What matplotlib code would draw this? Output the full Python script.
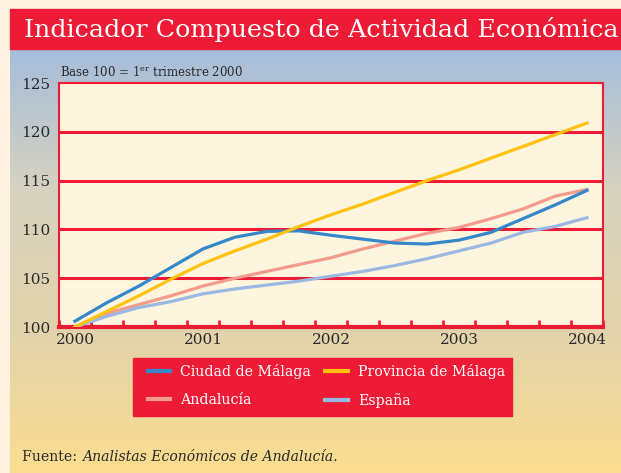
import numpy as np
import matplotlib
matplotlib.use("Agg")
import matplotlib.pyplot as plt
from matplotlib.patches import Rectangle
from matplotlib.colors import LinearSegmentedColormap

# quarterly values, 1st quarter 2000 .. 1st quarter 2004
quarters = np.arange(17)
ciudad = [100.6, 102.5, 104.2, 106.1, 108.0, 109.2, 109.8, 109.85, 109.4, 109.0,
          108.6, 108.5, 108.9, 109.7, 111.1, 112.5, 114.0]
provincia = [100.0, 101.6, 103.2, 104.9, 106.5, 107.8, 109.0, 110.3, 111.5, 112.6,
             113.8, 115.0, 116.1, 117.3, 118.5, 119.7, 120.9]
andalucia = [100.0, 101.4, 102.3, 103.2, 104.2, 105.0, 105.7, 106.4, 107.1, 108.0,
             108.8, 109.6, 110.2, 111.1, 112.1, 113.4, 114.1]
espana = [100.0, 101.1, 102.0, 102.6, 103.4, 103.9, 104.3, 104.7, 105.2, 105.7,
          106.3, 107.0, 107.8, 108.6, 109.7, 110.3, 111.2]

year_labels = ["2000", "2001", "2002", "2003", "2004"]
y_ticks = [100, 105, 110, 115, 120, 125]

RED = "#ED1B35"
TXT = "#2A2A2A"
W, H = 621, 473

plt.rcParams['font.family'] = ['DejaVu Serif']
plt.rcParams['mathtext.fontset'] = 'dejavuserif'

fig = plt.figure(figsize=(W / 100, H / 100), dpi=100)
fig.patch.set_facecolor("#FEF3DF")

# background panel with gradient
bg = fig.add_axes([0, 0, 1, 1])
bg.set_xlim(0, W)
bg.set_ylim(H, 0)
bg.axis("off")
grad = np.linspace(0, 1, 256)[:, None]
cmap = LinearSegmentedColormap.from_list("g", ["#A6BDDA", "#D6D2C0", "#E2D3AB", "#F9DD8F"])
bg.imshow(grad, cmap=cmap, extent=[10, W, H, 49], aspect="auto", zorder=0)
bg.add_patch(Rectangle((10, 9), W - 10, 40, color=RED, zorder=1))
bg.text(24, 30, "Indicador Compuesto de Actividad Económica", color="white",
        fontsize=18.3, va="center", ha="left", zorder=2)
bg.text(60, 72, r"Base 100 = 1$^{\mathregular{er}}$ trimestre 2000", color=TXT,
        fontsize=8.5, va="center", ha="left")
t1 = bg.text(22, 457, "Fuente: ", color=TXT, fontsize=10.1, va="center", ha="left")
bg.add_patch(Rectangle((133, 358), 379, 58, color=RED, zorder=1))

ax = fig.add_axes([59 / W, 1 - 327 / H, (603 - 59) / W, (327 - 83) / H])
ax.set_facecolor("#FEF5DF")
l1, = ax.plot(quarters, ciudad, color="#3487C8", lw=2.3, label="Ciudad de Málaga", zorder=5)
l2, = ax.plot(quarters, provincia, color="#FFC20E", lw=2.3, label="Provincia de Málaga", zorder=5)
l3, = ax.plot(quarters, andalucia, color="#F59B8B", lw=2.3, label="Andalucía", zorder=4)
l4, = ax.plot(quarters, espana, color="#9BB8E2", lw=2.3, label="España", zorder=4)

ax.set_xlim(-0.5, 16.5)
ax.set_ylim(100, 125)
ax.set_yticks(y_ticks)
ax.set_xticks([0, 4, 8, 12, 16])
ax.set_xticklabels(year_labels)
ax.set_xticks(np.arange(-0.5, 17, 1), minor=True)
ax.tick_params(axis="x", which="major", length=0, pad=4, labelsize=11, labelcolor=TXT)
ax.tick_params(axis="x", which="minor", direction="in", length=5, width=2, color=RED)
ax.tick_params(axis="y", length=0, pad=6, labelsize=11, labelcolor=TXT)
for yv in y_ticks[1:-1]:
    ax.axhline(yv, color=RED, lw=2.2, zorder=2)
for side in ["left", "right", "top"]:
    ax.spines[side].set_color(RED)
    ax.spines[side].set_linewidth(1.5)
ax.spines["bottom"].set_color(RED)
ax.spines["bottom"].set_linewidth(3)

# legend order row-wise: Ciudad, Provincia / Andalucia, Espana
leg = fig.legend(handles=[l1, l3, l2, l4], loc="center left",
                 bbox_to_anchor=(135 / W, 1 - 386 / H),
                 ncol=2, frameon=False, handlelength=1.6,
                 handletextpad=0.7, columnspacing=1.0, labelspacing=1.0,
                 prop={"size": 10.2})
for txt in leg.get_texts():
    txt.set_color("white")
for ln in leg.get_lines():
    ln.set_linewidth(3)

fig.canvas.draw()
bb = t1.get_window_extent()
x_end = bg.transData.inverted().transform((bb.x1, bb.y0))[0]
bg.text(x_end, 457, "Analistas Económicos de Andalucía.", color=TXT, fontsize=10.1,
        va="center", ha="left", style="italic")

fig.savefig("out.png", dpi=100, facecolor=fig.get_facecolor())
